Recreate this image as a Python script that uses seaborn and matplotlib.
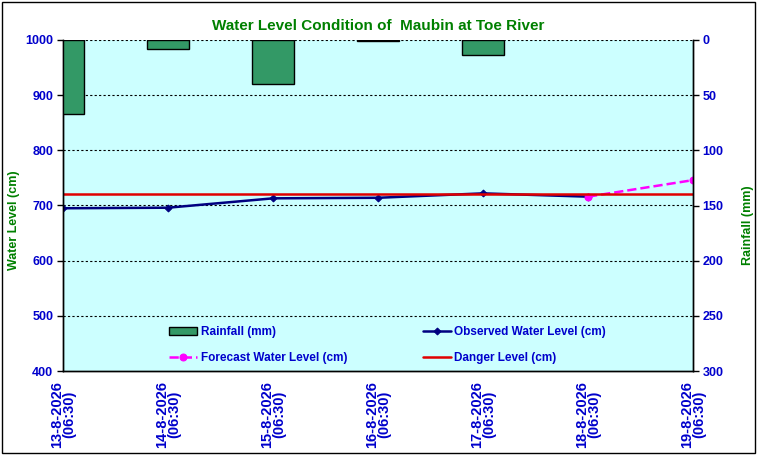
import matplotlib
matplotlib.use("Agg")
import matplotlib.pyplot as plt
import seaborn as sns
import pandas as pd
import numpy as np
from matplotlib.patches import Rectangle

dates = ["13-8-2026\n(06:30)", "14-8-2026\n(06:30)", "15-8-2026\n(06:30)",
         "16-8-2026\n(06:30)", "17-8-2026\n(06:30)", "18-8-2026\n(06:30)",
         "19-8-2026\n(06:30)"]
rainfall = [67, 8, 40, 1, 14, np.nan, np.nan]
observed = [695, 696, 713, 714, 722, 716]
forecast_x = [5, 6]
forecast = [716, 746]
danger = 720

sns.set_theme(style="white")
plt.rcParams["font.family"] = ["Liberation Sans", "DejaVu Sans"]

blue = "#0000CC"
green = "#008000"

fig = plt.figure(figsize=(7.64, 4.58), dpi=100)
ax = fig.add_axes([63 / 764, 1 - 371 / 458, 630 / 764, 331 / 458])
ax.set_facecolor("#CCFFFF")
ax2 = ax.twinx()

rain_df = pd.DataFrame({"date": dates, "rain": rainfall})
sns.barplot(data=rain_df, x="date", y="rain", ax=ax2, color="#339966",
            saturation=1, width=0.4, edgecolor="black", linewidth=1,
            label="Rainfall (mm)")

obs_df = pd.DataFrame({"x": range(len(observed)), "lvl": observed})
sns.lineplot(data=obs_df, x="x", y="lvl", ax=ax, color="#000080", marker="D",
             markersize=3.5, markeredgecolor="#000080", linewidth=1.8,
             label="Observed Water Level (cm)")
fc_df = pd.DataFrame({"x": forecast_x, "lvl": forecast})
sns.lineplot(data=fc_df, x="x", y="lvl", ax=ax, color="#FF00FF", marker="o",
             markersize=5, markeredgecolor="#FF00FF", linewidth=1.8,
             linestyle="--", label="Forecast Water Level (cm)")
ax.axhline(danger, color="#E00000", linewidth=1.8, label="Danger Level (cm)")

ax.set_xlim(0, 6)
ax.set_ylim(400, 1000)
ax.set_yticks(range(400, 1001, 100))
ax2.set_ylim(300, 0)
ax2.set_yticks(range(0, 301, 50))
ax.set_xticks(range(7))
ax.set_xticklabels(dates, rotation=90, color=blue, fontweight="bold",
                   fontsize=10.5, va="top", ha="center", linespacing=0.85)
ax2.set_xlabel("")
ax.set_xlabel("")

for y in range(500, 1001, 100):
    ax.axhline(y, color="black", linestyle=(0, (2, 2)), linewidth=0.8,
               zorder=0.5)

for a in (ax, ax2):
    a.tick_params(axis="y", colors=blue, labelsize=9, length=4, width=1,
                  direction="out", pad=3)
    for lbl in a.get_yticklabels():
        lbl.set_fontweight("bold")
    for s in a.spines.values():
        s.set_color("black")
        s.set_linewidth(1)
    a.spines["top"].set_visible(False)
ax.tick_params(axis="x", length=5, width=1, direction="out", color="black",
               pad=2)
ax.tick_params(axis="y", color="black")
ax2.tick_params(axis="y", color="black")

ax.set_ylabel("Water Level (cm)", color=green, fontweight="bold", fontsize=9)
ax.yaxis.set_label_coords(-0.068, 0.456)
ax2.set_ylabel("Rainfall (mm)", color=green, fontweight="bold", fontsize=9,
               rotation=90)
ax2.yaxis.set_label_coords(1.078, 0.441)
ax.set_title("Water Level Condition of  Maubin at Toe River", color=green,
             fontweight="bold", fontsize=11, pad=7)

h1, l1 = ax2.get_legend_handles_labels()
h2, l2 = ax.get_legend_handles_labels()
if ax.get_legend():
    ax.get_legend().remove()
handles = [h1[0], h2[1], h2[0], h2[2]]
labels = [l1[0], l2[1], l2[0], l2[2]]
leg = ax2.legend(handles, labels, ncol=2, loc="center",
                 bbox_to_anchor=(0.515, 0.0785), frameon=False, fontsize=8.5,
                 columnspacing=6.4, handlelength=2.4, handletextpad=0.3,
                 labelspacing=1.2)
for t in leg.get_texts():
    t.set_color(blue)
    t.set_fontweight("bold")

fig.patches.append(Rectangle((2 / 764, 1 - 453 / 458), 753 / 764, 451 / 458,
                             transform=fig.transFigure, fill=False,
                             edgecolor="black", linewidth=1))

fig.savefig("out.png", dpi=100)
